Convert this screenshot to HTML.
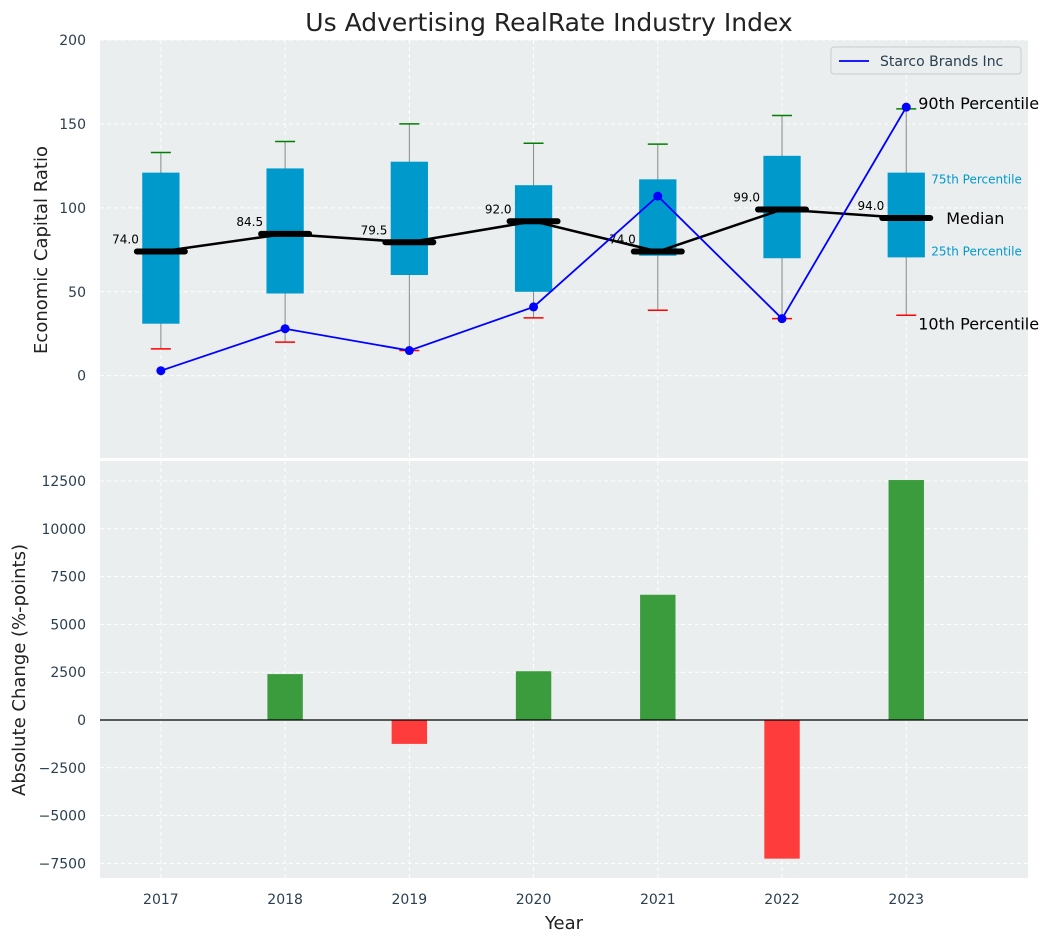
<!DOCTYPE html>
<html><head><meta charset="utf-8"><style>
body{margin:0;background:#fff;font-family:"Liberation Sans","DejaVu Sans",sans-serif;}
svg text{font-family:"DejaVu Sans","Liberation Sans",sans-serif;}
</style></head><body>
<svg id="c" width="1053" height="942" xmlns="http://www.w3.org/2000/svg"></svg>
<script>
const years=[2017,2018,2019,2020,2021,2022,2023];
const p10=[16,20,15,34.5,39,34,36];
const p25=[31,49,60,50,71.5,70,70.5];
const medians=[74,84.5,79.5,92,74,99,94];
const p75=[121,123.5,127.5,113.5,117,131,121];
const p90=[133,139.5,150,138.5,138,155,159];
const company=[3,28,15,41,107,34,160];
const changes=[0,2400,-1250,2550,6550,-7250,12550];
const topTicks=[0,50,100,150,200];
const botTicks=[-7500,-5000,-2500,0,2500,5000,7500,10000,12500];

const svg=document.getElementById('c');
const NS='http://www.w3.org/2000/svg';
function el(t,a,txt){const e=document.createElementNS(NS,t);for(const k in a)e.setAttribute(k,a[k]);if(txt!==undefined)e.textContent=txt;svg.appendChild(e);return e;}
const X0=100,X1=1028;
const xs=v=>X0+(v-2016.51)/(2023.98-2016.51)*(X1-X0);
const T0=40,T1=458,yt=v=>T0+(200-v)/(200+49)*(T1-T0);
const B0=461,B1=878,yb=v=>B0+(13545-v)/(13545+8263)*(B1-B0);

let e=el('rect',{x:X0,y:T0,width:X1-X0,height:T1-T0,fill:'#eaeeee'});

e=el('rect',{x:X0,y:B0,width:X1-X0,height:B1-B0,fill:'#eaeeee'});


years.forEach(y=>{
 el('line',{x1:xs(y),x2:xs(y),y1:T0,y2:T1,stroke:'#fff','stroke-dasharray':'4,3','stroke-width':1});
 el('line',{x1:xs(y),x2:xs(y),y1:B0,y2:B1,stroke:'#fff','stroke-dasharray':'4,3','stroke-width':1});
 e=el('text',{x:xs(y),y:904,'text-anchor':'middle','font-size':14,fill:'#2a3f50'},y);
 
});
topTicks.forEach(t=>{
 el('line',{x1:X0,x2:X1,y1:yt(t),y2:yt(t),stroke:'#fff','stroke-dasharray':'4,3'});
 e=el('text',{x:86,y:yt(t)+5,'text-anchor':'end','font-size':14,fill:'#2a3f50'},t);
 
});
botTicks.forEach(t=>{
 el('line',{x1:X0,x2:X1,y1:yb(t),y2:yb(t),stroke:'#fff','stroke-dasharray':'4,3'});
 e=el('text',{x:86,y:yb(t)+5,'text-anchor':'end','font-size':14,fill:'#2a3f50'},String(t).replace('-','\u2212'));
 
});

const bw=xs(2017.15)-xs(2017);
years.forEach((y,i)=>{
 const x=xs(y);
 el('line',{x1:x,x2:x,y1:yt(p90[i]),y2:yt(p10[i]),stroke:'#888','stroke-width':1});
 e=el('rect',{x:x-bw,y:yt(p75[i]),width:2*bw,height:yt(p25[i])-yt(p75[i]),fill:'#0099cc'});
 
 el('line',{x1:x-10,x2:x+10,y1:yt(p90[i]),y2:yt(p90[i]),stroke:'green','stroke-width':1.5});
 el('line',{x1:x-10,x2:x+10,y1:yt(p10[i]),y2:yt(p10[i]),stroke:'red','stroke-width':1.5});
 e=el('line',{x1:x-24,x2:x+24,y1:yt(medians[i]),y2:yt(medians[i]),stroke:'#000','stroke-width':6,'stroke-linecap':'round'});
 
 e=el('text',{x:x-22,y:yt(medians[i])-8,'text-anchor':'end','font-size':12,fill:'#000'},medians[i].toFixed(1));
 
});
e=el('polyline',{points:years.map((y,i)=>xs(y)+','+yt(medians[i])).join(' '),fill:'none',stroke:'#000','stroke-width':2.5});

e=el('polyline',{points:years.map((y,i)=>xs(y)+','+yt(company[i])).join(' '),fill:'none',stroke:'blue','stroke-width':1.8});

years.forEach((y,i)=>{e=el('circle',{cx:xs(y),cy:yt(company[i]),r:4.5,fill:'blue'});
 });

const L=xs(2023);
el('text',{x:L+12,y:yt(p90[6])+0,'font-size':16,fill:'#000'},'90th Percentile');
el('text',{x:L+25,y:yt(p75[6])+11,'font-size':12,fill:'#0099cc'},'75th Percentile');
el('text',{x:L+40,y:yt(medians[6])+6,'font-size':16,fill:'#000'},'Median');
el('text',{x:L+25,y:yt(p25[6])-2,'font-size':12,fill:'#0099cc'},'25th Percentile');
el('text',{x:L+12,y:yt(p10[6])+14,'font-size':16,fill:'#000'},'10th Percentile');

e=el('rect',{x:831,y:47,width:190,height:27,fill:'#eaeeee',stroke:'#ccc',rx:3});

el('line',{x1:839,x2:869,y1:61,y2:61,stroke:'blue','stroke-width':1.8});
el('text',{x:880,y:66,'font-size':14,fill:'#2a3f50'},'Starco Brands Inc');

years.forEach((y,i)=>{
 if(!changes[i])return;
 const v=changes[i];
 e=el('rect',{x:xs(y)-bw*0.95,y:Math.min(yb(v),yb(0)),width:bw*1.9,height:Math.abs(yb(v)-yb(0)),fill:v>0?'#3a9c3c':'#ff3c3c'});
 
});
el('line',{x1:X0,x2:X1,y1:yb(0),y2:yb(0),stroke:'#000','stroke-width':1.2});

e=el('text',{x:549,y:31,'text-anchor':'middle','font-size':25,fill:'#222'},'Us Advertising RealRate Industry Index');

e=el('text',{x:47,y:250,'text-anchor':'middle','font-size':18,fill:'#222',transform:'rotate(-90 47 250)'},'Economic Capital Ratio');

e=el('text',{x:25,y:670,'text-anchor':'middle','font-size':18,fill:'#222',transform:'rotate(-90 25 670)'},'Absolute Change (%-points)');

e=el('text',{x:564,y:929,'text-anchor':'middle','font-size':18,fill:'#222'},'Year');

</script>
</body></html>
